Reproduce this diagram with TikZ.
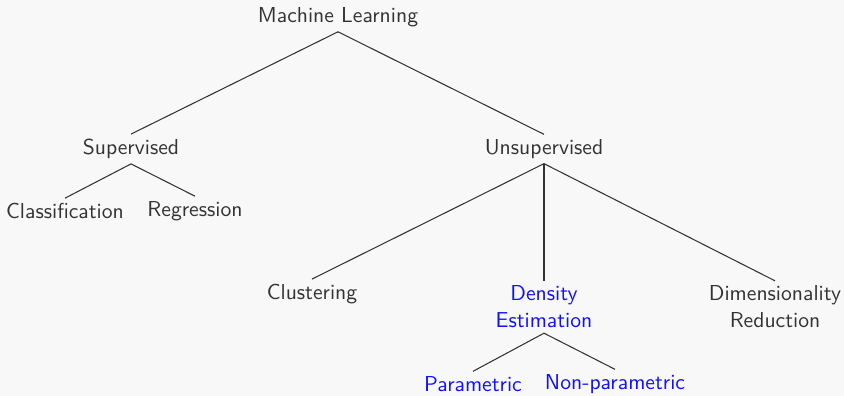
\documentclass[tikz,border=0pt]{standalone}
\definecolor{bgcol}{HTML}{F8F8F8}
\definecolor{inkcol}{HTML}{333333}
\definecolor{hicol}{HTML}{1010FF}
\begin{document}
\begin{tikzpicture}[x=0.474pt,y=-0.474pt,
  concept/.style={font=\sffamily\fontsize{10.25}{12.8}\selectfont, text=inkcol, align=center, inner sep=2.2pt},
  marked/.style={concept, text=hicol},
  branch/.style={draw=inkcol, line width=0.5pt}]
\fill[bgcol] (0,0) rectangle (844,396);
\useasboundingbox (0,0) rectangle (844,396);

% levels of the tree
\node[concept] (root) at (338,17) {Machine Learning};
\node[concept] (sup)  at (131,149) {Supervised};
\node[concept] (uns)  at (544,149) {Unsupervised};
\node[concept] (cls)  at (65,211)  {Classification};
\node[concept] (reg)  at (195,211) {Regression};
\node[concept] (clu)  at (312,294) {Clustering};
\node[marked, text width=100] (den) at (544,307) {Density\\Estimation};
\node[concept, text width=150] (dim) at (775,307) {Dimensionality\\Reduction};
\node[marked] (par) at (473,384) {Parametric};
\node[marked] (non) at (615,384) {Non-parametric};

% branches
\draw[branch] (root.south) -- (sup.north);
\draw[branch] (root.south) -- (uns.north);
\draw[branch] (sup.south) -- (cls.north);
\draw[branch] (sup.south) -- (reg.north);
\draw[branch] (uns.south) -- (clu.north);
\draw[branch] (uns.south) -- (den.north);
\draw[branch] (uns.south) -- (dim.north);
\draw[branch] (den.south) -- (par.north);
\draw[branch] (den.south) -- (non.north);
\end{tikzpicture}
\end{document}
